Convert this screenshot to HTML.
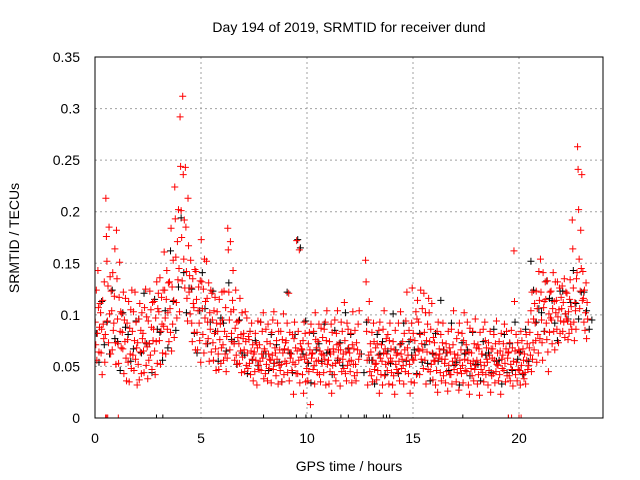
<!DOCTYPE html>
<html><head><meta charset="utf-8"><style>
body{margin:0;background:#fff}
svg{display:block;font-family:"Liberation Sans",sans-serif}
</style></head><body>
<svg id="chart" width="640" height="480" viewBox="0 0 640 480">
<defs><clipPath id="pc"><rect x="95" y="57" width="508" height="361"/></clipPath></defs>
<text x="349" y="32" font-size="14" text-anchor="middle">Day 194 of 2019, SRMTID for receiver dund</text>
<g id="grid"></g>
<g id="marks" clip-path="url(#pc)"></g>
<rect x="95" y="57" width="508" height="361" fill="none" stroke="#000"/>
<g id="axes"></g>
<text x="349" y="471" font-size="14" text-anchor="middle">GPS time / hours</text>
<text transform="translate(19,238) rotate(-90)" font-size="14" text-anchor="middle">SRMTID / TECUs</text>
</svg>
<script>
const xTicks=[0,5,10,15,20];
const yTicks=[0,0.05,0.1,0.15,0.2,0.25,0.3,0.35];
const yTickLabels=["0","0.05","0.1","0.15","0.2","0.25","0.3","0.35"];
const binWidth=0.25;
// red series: values in hundredths of TECU per 0.25h bin starting at 0h
const redBins=[
[9.3,7.1,12.4,5.6,8.2,14.3,10.7,6.4,8.8,11.1],[10.2,6.3,8.6,4.2,11.4,9.1,7.7,13.2,5.4,8.1],[21.3,17.6,15.2,9.4,12.8,7.3,18.5,10.1,13.7,6.2],[12.3,10.4,6.6,14.1,8.5,9.2,11.8,16.4,7.3,5.2],
[18.2,13.5,9.6,7.2,5.3,11.7,15.1,8.4,10.3,6.8],[10.1,8.3,6.7,12.2,4.3,9.5,7.4,11.6,5.8,3.6],[9.2,7.6,5.4,11.3,3.5,8.7,6.2,10.5,4.8,12.4],[8.4,6.1,10.3,4.6,7.5,12.2,5.7,9.3,6.8,3.2],
[7.3,5.2,9.6,3.7,11.1,6.4,8.5,4.3,10.2,7.7],[8.2,6.5,4.4,10.7,7.3,12.5,5.1,9.8,6.9,3.8],[9.4,5.6,7.2,12.3,6.1,10.5,8.8,4.7,11.2,7.5],[8.6,11.3,6.5,4.2,9.7,7.4,13.2,5.3,10.6,12.1],
[10.3,7.5,13.6,5.2,8.4,11.7,9.1,6.3,12.4,8.9],[16.1,12.4,9.7,6.2,11.5,14.3,8.6,10.2,13.1,7.4],[13.2,10.6,8.3,18.4,6.5,12.7,9.1,15.3,11.4,7.8],[22.4,19.3,15.6,11.2,9.7,17.1,13.4,20.2,14.5,10.3],
[29.2,24.4,20.1,17.5,13.3,31.2,23.6,15.4,19.2,12.6],[24.3,18.5,14.2,11.6,9.4,21.3,16.7,12.2,13.8,10.1],[15.3,12.6,9.2,7.4,13.5,11.1,10.7,8.3,14.4,6.6],[14.2,11.5,8.3,6.6,10.4,12.7,9.2,7.5,13.3,5.4],
[17.3,13.2,10.6,8.1,12.5,6.3,15.4,9.7,11.3,7.2],[15.2,11.6,9.3,7.7,13.1,5.5,10.2,8.6,12.4,6.4],[12.1,9.5,7.3,5.6,10.4,8.2,11.7,6.7,4.6,9.2],[10.3,8.4,6.2,4.7,11.5,7.6,9.1,5.3,6.8,12.2],
[9.5,7.1,5.6,12.3,8.4,6.2,10.7,4.5,7.9,5.8],[18.4,16.3,12.2,9.5,6.6,17.1,10.3,8.2,7.4,11.4],[14.3,10.5,7.2,5.6,8.7,12.4,6.1,9.3,5.2,7.8],[9.4,7.2,5.3,11.6,6.5,8.1,4.4,10.2,5.9,7.7],
[8.2,6.6,4.5,10.3,7.4,5.1,9.7,6.3,4.8,7.9],[7.6,5.3,8.4,4.2,6.5,9.2,5.7,7.1,3.6,6.2],[6.4,4.5,8.2,5.6,7.3,3.2,6.8,9.4,5.1,4.7],[7.1,5.5,9.3,4.6,6.2,8.4,5.8,10.2,3.8,6.7],
[6.5,4.3,8.6,5.2,7.4,3.6,9.1,6.2,4.8,5.7],[7.2,5.6,3.4,8.3,6.1,9.5,4.7,10.3,5.3,6.8],[6.3,4.1,7.5,5.7,9.2,3.3,8.4,5.1,6.6,4.6],[8.4,5.2,3.5,7.6,6.3,10.1,4.2,6.7,5.5,7.3],
[7.5,5.3,9.2,4.4,6.6,12.1,3.6,8.3,5.8,6.2],[6.2,4.6,8.1,5.4,2.3,7.7,9.3,5.2,6.8,4.3],[17.2,6.5,4.3,8.4,5.6,16.3,3.4,7.2,5.9,6.7],[6.6,4.2,7.5,2.4,9.3,5.7,8.2,3.5,6.1,4.8],
[5.4,3.6,7.2,4.5,8.3,6.6,1.3,9.1,5.8,6.2],[6.3,4.7,8.4,5.1,3.3,10.2,7.6,5.5,6.8,4.4],[7.4,5.6,9.1,4.2,6.5,3.5,8.7,6.2,5.3,7.8],[6.1,4.4,8.6,5.7,9.3,3.2,7.5,10.4,5.2,6.6],
[5.6,3.3,7.4,4.5,6.2,9.1,2.4,8.3,5.1,6.7],[6.4,4.2,9.5,5.3,3.6,8.2,7.1,10.4,5.8,6.6],[7.2,5.4,3.1,6.6,9.3,4.5,8.4,5.7,6.2,4.8],[11.2,7.5,4.3,6.4,3.6,9.2,5.1,8.6,6.8,5.5],
[6.3,4.5,8.2,5.6,3.4,7.1,10.3,5.2,6.7,4.1],[8.5,5.2,3.6,7.3,4.4,6.6,9.1,5.7,10.4,6.2],[0,0,0,0,0,0,0,0,0,0],[15.3,13.2,8.4,5.6,3.2,9.5,6.1,11.3,4.5,7.2],
[6.4,4.1,8.3,3.5,5.6,9.2,7.4,4.7,5.2,6.8],[5.3,3.7,7.2,4.6,6.1,8.5,2.4,9.3,5.8,4.2],[7.1,5.5,3.2,8.6,6.3,10.4,4.1,6.7,5.2,7.7],[6.2,4.6,8.1,5.4,3.3,7.5,9.2,5.8,6.7,4.4],
[5.5,3.2,7.4,4.1,6.6,2.3,8.5,5.2,6.1,4.7],[6.3,4.4,9.2,5.5,3.6,7.1,10.3,6.2,4.8,5.7],[7.4,5.1,3.3,8.2,6.6,4.5,9.4,5.6,12.2,6.8],[6.1,4.3,8.5,5.2,2.4,7.6,3.5,9.2,12.6,5.7],
[8.2,5.6,3.4,7.5,6.1,10.3,4.2,9.6,11.4,6.7],[9.3,6.5,4.2,8.1,12.4,5.7,7.2,10.6,6.6,4.8],[12.1,8.3,5.6,10.2,3.3,7.5,6.4,9.1,4.7,11.6],[10.2,7.4,4.5,8.6,5.2,11.1,6.3,3.7,7.8,5.6],
[7.3,5.5,3.2,6.1,4.6,8.4,2.5,9.3,5.8,6.7],[6.2,4.4,8.1,3.6,5.7,7.3,9.2,4.1,6.6,5.3],[5.7,3.4,7.2,4.5,6.3,2.6,8.4,5.1,6.8,4.2],[6.4,4.2,8.6,3.3,5.5,7.1,10.4,4.7,6.2,5.8],
[5.2,3.5,7.7,4.4,6.1,8.3,2.7,9.2,5.6,4.8],[6.6,4.3,8.2,5.1,3.4,7.5,10.2,5.7,4.6,6.3],[7.1,4.5,9.3,5.6,3.2,6.4,2.3,8.7,5.3,4.8],[6.3,4.1,8.4,5.5,3.6,7.2,4.7,9.6,5.1,6.8],
[5.6,3.3,7.1,4.2,6.7,2.2,8.3,5.4,4.7,6.2],[6.2,4.4,8.6,3.5,5.1,9.3,7.5,4.2,6.8,5.7],[5.4,3.2,7.3,4.6,6.1,8.4,2.5,6.7,4.1,5.8],[6.7,4.3,8.1,5.6,3.4,7.2,4.5,9.4,5.2,6.3],
[5.1,3.6,7.4,4.2,6.5,2.3,8.2,5.7,4.8,6.1],[7.2,4.6,9.1,5.3,3.5,6.7,8.4,4.1,5.8,6.3],[6.4,4.1,7.3,3.6,5.2,8.5,4.7,6.8,3.1,5.5],[16.2,11.3,6.5,4.2,8.1,5.4,3.6,7.3,4.7,6.6],
[6.3,4.6,3.2,8.4,5.1,7.5,4.3,6.7,5.6,3.8],[6.2,4.4,3.3,8.1,5.6,7.2,4.7,9.3,5.1,6.8],[8.3,6.1,10.4,4.5,12.2,5.7,7.3,9.6,6.6,11.1],[9.2,7.5,12.3,5.4,10.6,8.1,6.3,14.2,11.4,7.7],
[15.4,12.2,9.5,7.3,5.6,14.1,10.7,11.3,8.4,13.2],[11.5,9.2,7.6,13.3,6.4,4.5,10.1,8.3,12.2,9.7],[12.3,9.5,7.2,10.6,14.1,8.4,11.3,6.6,13.2,10.2],[11.4,8.6,13.2,9.8,7.3,10.5,12.6,8.2,9.4,11.7],
[10.6,12.8,8.4,11.2,9.3,13.5,7.8,10.1,12.2,9.6],[12.1,9.4,7.6,10.3,8.2,11.5,13.4,9.1,10.8,8.6],
[19.2,16.4,12.6,9.3,7.5,11.2,10.4,8.6,13.5,14.1],[26.3,24.1,20.2,15.4,10.6,12.3,18.2,14.5,23.6,11.4],[14.2,11.6,9.3,12.4,8.5,10.2,13.1,7.7,11.2,9.6]
];
// black series: values in hundredths per 0.5h bin starting at 0h
const blackBins=[
[8.2,5.4,11.3,7.1],[9.3,6.2,12.4,7.7],[7.4,4.6,10.2,8.8],[8.1,5.5,6.7,9.4],[9.6,6.3,12.1,7.2],[7.2,4.4,11.5,8.6],[8.3,5.6,10.4,6.8],[16.2,11.3,8.5,12.7],[19.4,14.1,10.2,12.6],[12.5,8.2,6.3,10.4],
[14.1,10.6,7.2,9.3],[12.3,8.4,5.5,9.7],[9.2,6.5,13.1,7.6],[7.4,5.2,9.5,6.3],[6.1,4.3,8.4,5.6],[7.5,5.1,9.3,6.2],[6.2,4.6,8.1,5.3],[7.1,5.4,3.5,6.6],[12.2,6.3,4.4,8.1],[17.3,16.5,6.2,9.4],
[5.3,3.4,8.2,6.6],[7.2,5.5,9.1,6.3],[6.4,4.2,8.5,5.6],[7.3,5.1,10.2,6.7],[8.1,0,0,0],[6.2,4.4,9.3,5.6],[5.6,3.3,8.1,6.2],[7.4,4.2,6.5,5.3],[10.1,6.6,4.3,7.2],[9.2,5.5,7.4,6.1],
[6.6,4.3,8.2,5.4],[7.1,5.3,3.6,6.2],[8.2,5.5,11.4,6.6],[6.3,4.6,9.2,5.1],[5.4,3.2,7.3,6.2],[6.6,4.1,8.3,5.2],[5.2,3.6,7.4,6.1],[6.3,4.4,8.6,5.5],[5.6,3.3,8.1,4.4],[7.2,4.6,9.3,5.7],
[6.4,4.2,8.6,5.5],[15.2,12.4,9.3,10.6],[10.2,8.4,13.3,11.6],[11.4,9.2,7.5,12.3],[12.3,10.1,9.6,11.2],[14.3,11.1,9.6,12.2],[12.2,10.4,8.6,9.5]
];
// zero-valued points (hours) along bottom axis
const redZeroT=[0.5,0.55,0.6,1.1,19.5,19.65,20.0,20.1];
const blackZeroT=[2.9,3.2,7.95,9.5,9.95,10.2,11.6,11.95,12.7,12.8,13.6,13.75,13.9,17.35,19.5];

const svgNS="http://www.w3.org/2000/svg";
const X=t=>95+t*106/5;
const Y=v=>418-v*361/0.35;
const grid=document.getElementById('grid'),axes=document.getElementById('axes'),marks=document.getElementById('marks');
function mk(tag,attrs,parent){const e=document.createElementNS(svgNS,tag);for(const k in attrs)e.setAttribute(k,attrs[k]);parent.appendChild(e);return e;}
xTicks.forEach(t=>{
  if(t>0){const l=mk('line',{x1:X(t),x2:X(t),y1:57,y2:418,stroke:'#a0a0a0','stroke-dasharray':'2,3'},grid);
  
  }
  const tx=mk('text',{x:X(t),y:443,'font-size':14,'text-anchor':'middle'},axes);tx.textContent=String(t);
  
  
});
yTicks.forEach((v,i)=>{
  if(v>0&&v<0.35){const l=mk('line',{x1:95,x2:603,y1:Y(v),y2:Y(v),stroke:'#a0a0a0','stroke-dasharray':'2,3'},grid);
  
  }
  const tx=mk('text',{x:80,y:Y(v)+5,'font-size':14,'text-anchor':'end'},axes);tx.textContent=yTickLabels[i];
  
  
});
function plus(t,v,color,name){
  const x=X(t),y=Y(v);
  const p=mk('path',{d:`M${x-3.5},${y}h7M${x},${y-3.5}v7`,stroke:color,'stroke-width':1,fill:'none'},marks);
  
  
}
blackBins.forEach((vals,b)=>vals.forEach((v,i)=>{if(v>0)plus(b*0.5+(i+0.5)*0.5/vals.length,v/100,'#000','black-point');}));
blackZeroT.forEach(t=>plus(t,0,'#000','black-zero-point'));
redBins.forEach((vals,b)=>vals.forEach((v,i)=>{if(v>0)plus(b*binWidth+(i+0.5)*binWidth/vals.length,v/100,'#f00','red-point');}));
redZeroT.forEach(t=>plus(t,0,'#f00','red-zero-point'));
</script>
</body></html>
